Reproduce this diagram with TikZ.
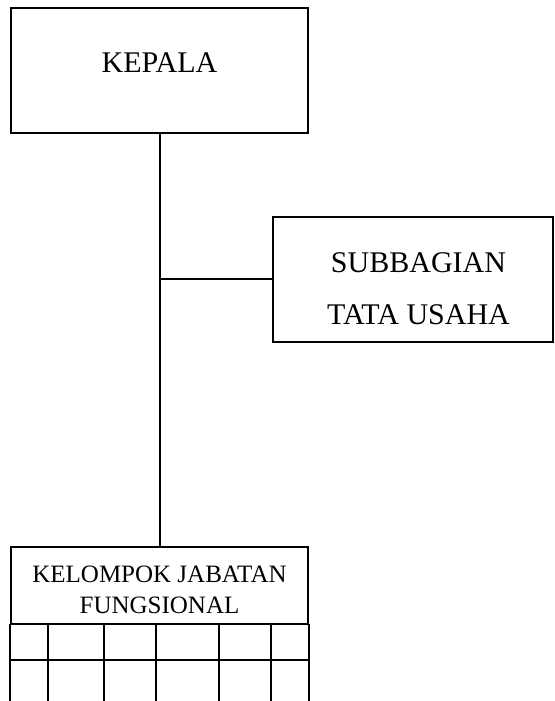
\documentclass[tikz,border=0pt]{standalone}
\usepackage{fontspec}
\setmainfont{Liberation Serif}
\begin{document}
\begin{tikzpicture}[x=1pt,y=1pt,
  box/.style={draw, line width=2pt, inner sep=0pt},
  conn/.style={line width=2pt},
  bigtext/.style={font=\fontsize{30}{52}\selectfont, align=center, inner sep=0pt},
  smalltext/.style={font=\fontsize{25}{31}\selectfont, align=center, inner sep=0pt}]
\useasboundingbox (0,0) rectangle (554,701);
\clip (0,0) rectangle (554,701);
% boxes
\node[box, minimum width=297pt, minimum height=125pt] (kepala) at (159.5,630.5) {};
\node[bigtext] (kepalatext) at (159.5,638) {KEPALA};
\node[box, minimum width=280pt, minimum height=125pt] (sub) at (413,421.5) {};
\node[bigtext] (subtext) at (418.5,412) {SUBBAGIAN\\TATA USAHA};
\node[box, minimum width=297pt, minimum height=77pt] (fung) at (159.5,115.5) {};
\node[smalltext] (fungtext) at (159.5,111) {KELOMPOK JABATAN\\FUNGSIONAL};
% grid below the header
\draw[conn] ([yshift=1pt]fung.south west) -- ++(0,-90);
\draw[conn] ([yshift=1pt]fung.south east) -- ++(0,-90);
\draw[conn] (11,41) -- (308,41);
\foreach \x in {48,104,156,219,271} {
  \draw[conn] (\x,77) -- (\x,-10);
}
% connectors
\draw[conn] (kepala.south) -- (fung.north);
\coordinate (br) at (kepala.south |- sub.west);
\draw[conn] (br) -- (sub.west);
\end{tikzpicture}
\end{document}
